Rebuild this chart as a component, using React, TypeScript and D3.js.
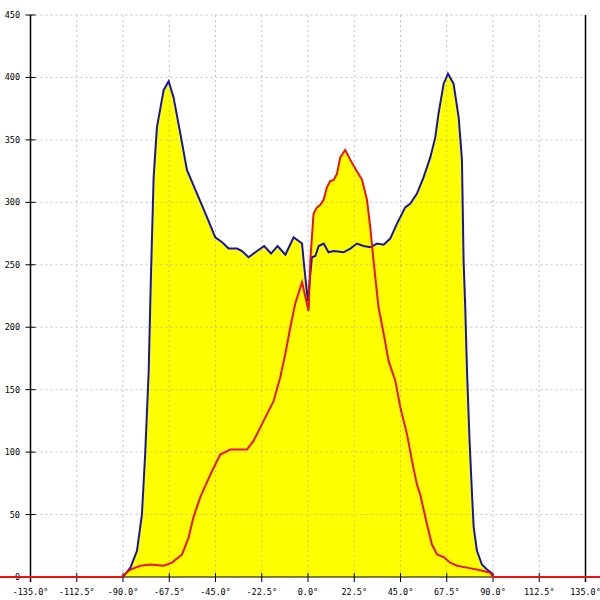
import React, { useEffect, useRef } from 'react';
import * as d3 from 'd3';

// angle (deg) / intensity samples
const blueAngles = [-90, -86.4, -83.2, -80.8, -79.2, -77.5, -76.5, -75.1, -73.5, -70.2, -67.8, -65.4, -62.1, -58.9, -54.0, -49.1, -45.1, -41.8, -38.6, -34.5, -32.1, -28.9, -24.8, -21.3, -18.0, -14.8, -11.0, -7.0, -2.9, -2.1, -0.8, 0, 0.8, 1.9, 3.6, 5.2, 7.6, 10.0, 12.5, 17.3, 20.6, 23.8, 27.0, 30.3, 33.6, 36.8, 40.0, 43.3, 47.3, 49.8, 53.0, 56.2, 59.5, 61.9, 63.5, 66.0, 68.1, 70.8, 73.3, 74.9, 75.7, 76.5, 77.4, 78.6, 79.8, 80.6, 82.2, 84.6, 87.1, 89.5, 90];
const blueValues = [0, 7.5, 21, 50, 99, 165, 235, 320, 360, 390, 397, 384, 355, 326, 307, 288, 272, 268, 263, 263, 261, 256, 261, 265, 259, 265, 258, 272, 267, 253, 232, 221, 237, 256, 257, 265, 267, 260, 261, 260, 263, 267, 265, 264, 267, 266, 271, 283, 296, 299, 307, 320, 336, 352, 371, 395, 403, 395, 368, 334, 253, 216, 163, 109, 66, 40, 21, 10, 6, 3, 0];

const redAngles = [-150, -91, -90, -86.4, -81.6, -76.7, -70.2, -66.2, -61.3, -58.1, -55.7, -52.4, -47.5, -42.7, -37.8, -29.7, -26.5, -21.6, -16.7, -13.5, -11.0, -8.6, -6.2, -2.9, 0.3, 1.1, 2.7, 4.4, 6.0, 7.6, 9.2, 10.8, 12.5, 14.1, 15.7, 18.1, 20.6, 23.0, 26.3, 28.7, 30.3, 31.9, 34.3, 36.8, 39.2, 42.5, 44.9, 48.2, 50.6, 53.0, 54.6, 57.9, 60.3, 62.8, 66.0, 69.2, 72.5, 77.4, 83.8, 88.7, 90, 150];
const redValues = [0, 0, 1, 6, 9, 10, 9, 11.5, 18, 31.5, 48, 64, 82, 98, 102, 102, 109, 125, 141, 160, 179, 200, 219, 236, 213, 253, 291, 296, 298, 302, 312, 317, 318, 323, 336, 342, 334, 327, 318, 302, 280, 253, 216, 195, 173, 157, 136, 114, 93, 74, 66, 42, 26, 18, 16, 11.5, 9, 7.5, 5.4, 3.4, 0, 0];

const xTicks = [-135, -112.5, -90, -67.5, -45, -22.5, 0, 22.5, 45, 67.5, 90, 112.5, 135];
const yTicks = [0, 50, 100, 150, 200, 250, 300, 350, 400, 450];

const App: React.FC = () => {
  const svgRef = useRef<SVGSVGElement | null>(null);

  useEffect(() => {
    if (!svgRef.current) return;

    const width = 600;
    const height = 600;
    const font = '"DejaVu Sans Mono", monospace';

    const svg = d3.select(svgRef.current).attr('width', width).attr('height', height);
    svg.selectAll('*').remove();

    const x = d3.scaleLinear().domain([-135, 135]).range([30.5, 585.5]);
    const y = d3.scaleLinear().domain([0, 450]).range([577, 15]);

    const blue = blueAngles.map((a, i) => [a, blueValues[i]] as [number, number]);
    const red = redAngles.map((a, i) => [a, redValues[i]] as [number, number]);

    const area = d3
      .area<[number, number]>()
      .x((d) => x(d[0]))
      .y0(y(0))
      .y1((d) => y(d[1]));

    const line = d3
      .line<[number, number]>()
      .x((d) => x(d[0]))
      .y((d) => y(d[1]));

    svg.append('path').attr('d', area(blue)).attr('fill', '#ffff00');
    svg.append('path').attr('d', area(red)).attr('fill', '#ffff00');

    // dashed grid, drawn over the fill
    svg
      .append('g')
      .selectAll('line')
      .data(xTicks.slice(1, -1))
      .enter()
      .append('line')
      .attr('x1', (d) => x(d))
      .attr('x2', (d) => x(d))
      .attr('y1', y(450))
      .attr('y2', y(0))
      .attr('stroke', '#aaaaaa')
      .attr('stroke-opacity', 0.7)
      .attr('stroke-dasharray', '2,3');

    svg
      .append('g')
      .selectAll('line')
      .data(yTicks.slice(1))
      .enter()
      .append('line')
      .attr('x1', x(-135))
      .attr('x2', x(135))
      .attr('y1', (d) => y(d))
      .attr('y2', (d) => y(d))
      .attr('stroke', '#aaaaaa')
      .attr('stroke-opacity', 0.7)
      .attr('stroke-dasharray', '2,3');

    // axes frame
    svg.append('line').attr('x1', x(-135)).attr('x2', x(-135)).attr('y1', y(450)).attr('y2', y(0) + 5).attr('stroke', '#000').attr('stroke-width', 1.5);
    svg.append('line').attr('x1', x(135)).attr('x2', x(135)).attr('y1', y(450)).attr('y2', y(0) + 5).attr('stroke', '#000').attr('stroke-width', 1.5);
    svg.append('line').attr('x1', x(-135)).attr('x2', x(135)).attr('y1', y(0)).attr('y2', y(0)).attr('stroke', '#000');

    // y ticks + labels
    const yg = svg.append('g');
    yg.selectAll('line')
      .data(yTicks)
      .enter()
      .append('line')
      .attr('x1', x(-135) - 5)
      .attr('x2', x(-135) + 5)
      .attr('y1', (d) => y(d))
      .attr('y2', (d) => y(d))
      .attr('stroke', '#000');
    yg.selectAll('text')
      .data(yTicks)
      .enter()
      .append('text')
      .attr('x', 20)
      .attr('y', (d) => y(d) + 3)
      .attr('text-anchor', 'end')
      .attr('font-family', font)
      .attr('font-size', 8.5)
      .attr('fill', '#000')
      .text((d) => String(d));

    // x ticks + labels
    const xg = svg.append('g');
    xg.selectAll('line')
      .data(xTicks)
      .enter()
      .append('line')
      .attr('x1', (d) => x(d))
      .attr('x2', (d) => x(d))
      .attr('y1', y(0) - 4)
      .attr('y2', y(0) + 5)
      .attr('stroke', '#000');
    xg.selectAll('text')
      .data(xTicks)
      .enter()
      .append('text')
      .attr('x', (d) => x(d))
      .attr('y', 595)
      .attr('text-anchor', 'middle')
      .attr('font-family', font)
      .attr('font-size', 8.5)
      .attr('fill', '#000')
      .text((d) => d.toFixed(1) + '°');

    svg
      .append('path')
      .attr('d', line(blue))
      .attr('fill', 'none')
      .attr('stroke', '#1414b4')
      .attr('stroke-width', 2);
    svg
      .append('path')
      .attr('d', line(red))
      .attr('fill', 'none')
      .attr('stroke', '#ee1111')
      .attr('stroke-width', 2);
  }, []);

  return (
    <div>
      <svg ref={svgRef} style={{ position: 'absolute', left: 0, top: 0, background: '#fff' }}></svg>
    </div>
  );
};

export default App;
